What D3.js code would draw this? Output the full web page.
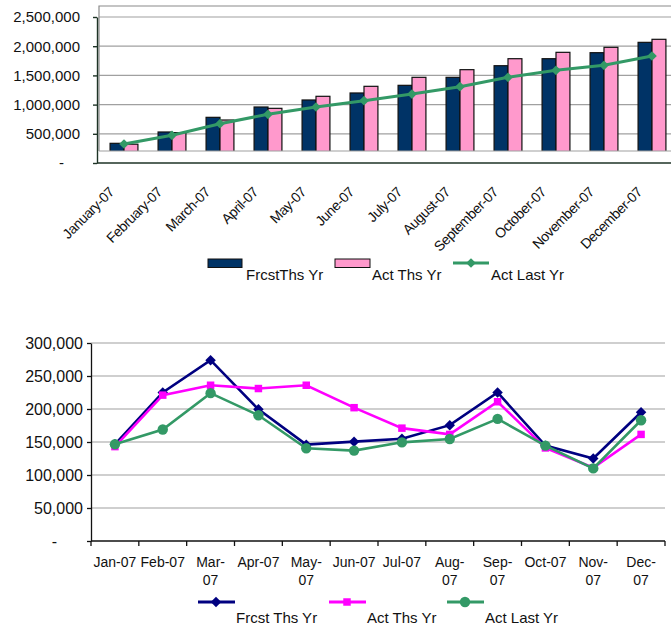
<!DOCTYPE html>
<html>
<head>
<meta charset="utf-8">
<script src="https://cdn.jsdelivr.net/npm/d3@7/dist/d3.min.js"></script>
<style>
  body { margin: 0; background: #fff; }
  svg { display: block; font-family: "Liberation Sans", Arial, sans-serif; }
</style>
</head>
<body>
<svg id="chart" width="671" height="626"></svg>
<script>
// cumulative chart (top)
var monthsLong = ["January-07", "February-07", "March-07", "April-07", "May-07", "June-07",
    "July-07", "August-07", "September-07", "October-07", "November-07", "December-07"];
var cumFrcst = [337000, 531000, 782000, 959000, 1079000, 1199000, 1330000, 1467000, 1666000, 1786000, 1889000, 2066000];
var cumAct = [322000, 520000, 736000, 936000, 1142000, 1313000, 1467000, 1598000, 1786000, 1895000, 1981000, 2118000];
var cumLast = [325000, 474000, 673000, 834000, 959000, 1067000, 1181000, 1307000, 1467000, 1587000, 1673000, 1832000];
var topTicks = [0, 500000, 1000000, 1500000, 2000000, 2500000];
var topSeries = ["FrcstThs Yr", "Act Ths Yr", "Act Last Yr"];

// monthly chart (bottom)
var monthsShort = ["Jan-07", "Feb-07", "Mar-|07", "Apr-07", "May-|07", "Jun-07",
    "Jul-07", "Aug-|07", "Sep-|07", "Oct-07", "Nov-|07", "Dec-|07"];
var monFrcst = [146500, 225000, 274000, 199500, 146000, 150500, 155000, 175500, 225000, 144500, 125000, 195000];
var monAct = [143000, 221000, 236000, 231000, 236000, 202000, 171000, 161500, 211000, 141000, 111000, 161500];
var monLast = [146500, 169000, 224000, 190500, 140500, 137000, 149500, 154500, 185000, 144500, 110000, 183000];
var bottomTicks = [0, 50000, 100000, 150000, 200000, 250000, 300000];
var bottomSeries = ["Frcst Ths Yr", "Act Ths Yr", "Act Last Yr"];

var svg = d3.select("#chart");
var fmt = d3.format(",");

// ---------- top chart ----------
var x = d3.scaleBand().domain(monthsLong).range([100, 676]).paddingInner(0.42).paddingOuter(0.21);
var x1 = d3.scaleBand().domain(["f", "a"]).range([0, x.bandwidth()]);
var y = d3.scaleLinear().domain([0, 2500000]).range([163, 17]);
var floorY = 151;

var topG = svg.append("g");

topG.append("g").selectAll("line").data(topTicks.slice(1))
    .join("line")
    .attr("x1", 99).attr("x2", 671)
    .attr("y1", d => y(d)).attr("y2", d => y(d))
    .attr("stroke", "#a0a0a0").attr("stroke-width", 1.2);

// plot frame
topG.append("path")
    .attr("d", "M99," + floorY + "V6H671")
    .attr("fill", "none").attr("stroke", "#8a8a8a").attr("stroke-width", 1.2);

topG.append("clipPath").attr("id", "floorClip")
    .append("rect").attr("x", 0).attr("y", 0).attr("width", 671).attr("height", floorY);

var bars = topG.append("g").attr("clip-path", "url(#floorClip)");
var groups = bars.selectAll("g").data(monthsLong).join("g")
    .attr("transform", d => "translate(" + x(d) + ",0)");
groups.append("rect")
    .attr("x", x1("f")).attr("width", x1.bandwidth())
    .attr("y", (d, i) => y(cumFrcst[i])).attr("height", (d, i) => y(0) - y(cumFrcst[i]))
    .attr("fill", "#003366").attr("stroke", "#111").attr("stroke-width", 1.2);
groups.append("rect")
    .attr("x", x1("a")).attr("width", x1.bandwidth())
    .attr("y", (d, i) => y(cumAct[i])).attr("height", (d, i) => y(0) - y(cumAct[i]))
    .attr("fill", "#ff99cc").attr("stroke", "#111").attr("stroke-width", 1.2);

topG.append("line")
    .attr("x1", 99).attr("x2", 671).attr("y1", floorY).attr("y2", floorY)
    .attr("stroke", "#a0a0a0").attr("stroke-width", 1.2);

var cx = d => x(d) + x.bandwidth() / 2;
topG.append("path")
    .datum(cumLast)
    .attr("d", d3.line().x((d, i) => cx(monthsLong[i])).y(d => y(d)))
    .attr("fill", "none").attr("stroke", "#339966").attr("stroke-width", 3);
var diamond = d3.symbol().type(d3.symbolDiamond2).size(60);
topG.append("g").selectAll("path").data(cumLast).join("path")
    .attr("d", diamond)
    .attr("transform", (d, i) => "translate(" + cx(monthsLong[i]) + "," + y(d) + ")")
    .attr("fill", "#339966");

var yAxisTop = topG.append("g")
    .attr("transform", "translate(97,0)")
    .call(d3.axisLeft(y).tickValues(topTicks).tickSize(4).tickSizeOuter(0).tickPadding(13)
        .tickFormat(d => d === 0 ? "-" : fmt(d)));
yAxisTop.selectAll("path,line").attr("stroke", "#1e3326").attr("stroke-width", 1.4);
yAxisTop.selectAll("text").attr("font-size", 15).attr("fill", "#111")
    .attr("font-family", "Liberation Sans, Arial, sans-serif");
yAxisTop.selectAll("text").filter(d => d === 0).attr("dx", -16);

topG.append("line")
    .attr("x1", 97).attr("x2", 671).attr("y1", y(0)).attr("y2", y(0))
    .attr("stroke", "#1e3326").attr("stroke-width", 1.4);

topG.append("g").selectAll("text").data(monthsLong).join("text")
    .attr("transform", d => "translate(" + (cx(d) - 9) + ",193) rotate(-45)")
    .attr("text-anchor", "end")
    .attr("font-size", 14)
    .attr("letter-spacing", -0.4)
    .attr("fill", "#111")
    .text(d => d);

// legend top
var legTop = topG.append("g").attr("font-size", 15).attr("fill", "#111");
var legTopX = [208, 335, 453];
legTop.append("rect").attr("x", legTopX[0]).attr("y", 259).attr("width", 34).attr("height", 8.5)
    .attr("fill", "#003366").attr("stroke", "#111");
legTop.append("rect").attr("x", legTopX[1]).attr("y", 259).attr("width", 35).attr("height", 8.5)
    .attr("fill", "#ff99cc").attr("stroke", "#111");
legTop.append("line").attr("x1", legTopX[2]).attr("x2", legTopX[2] + 36).attr("y1", 263).attr("y2", 263)
    .attr("stroke", "#339966").attr("stroke-width", 3);
legTop.append("path").attr("d", diamond).attr("transform", "translate(" + (legTopX[2] + 18) + ",263)")
    .attr("fill", "#339966");
legTop.selectAll("text").data(topSeries).join("text")
    .attr("x", (d, i) => legTopX[i] + [38, 37, 38][i])
    .attr("y", 280)
    .text(d => d);

// ---------- bottom chart ----------
var xb = d3.scaleBand().domain(monthsShort).range([91, 665]);
var yb = d3.scaleLinear().domain([0, 300000]).range([541, 343]);
var bot = svg.append("g");
var bcx = d => xb(d) + xb.bandwidth() / 2;

bot.append("g").selectAll("line").data(bottomTicks.slice(1))
    .join("line")
    .attr("x1", 91).attr("x2", 665)
    .attr("y1", d => yb(d)).attr("y2", d => yb(d))
    .attr("stroke", "#a0a0a0").attr("stroke-width", 1.2);

var yAxisBot = bot.append("g")
    .attr("transform", "translate(91,0)")
    .call(d3.axisLeft(yb).tickValues(bottomTicks).tickSize(4).tickSizeOuter(0).tickPadding(4)
        .tickFormat(d => d === 0 ? "-" : fmt(d)));
yAxisBot.selectAll("path,line").attr("stroke", "#111").attr("stroke-width", 1.3);
yAxisBot.selectAll("text").attr("font-size", 16).attr("fill", "#111")
    .attr("font-family", "Liberation Sans, Arial, sans-serif");
yAxisBot.selectAll("text").filter(d => d === 0).attr("dx", -26);

bot.append("line").attr("x1", 91).attr("x2", 665).attr("y1", yb(0)).attr("y2", yb(0))
    .attr("stroke", "#111").attr("stroke-width", 1.3);
bot.append("g").selectAll("line").data(monthsShort.concat([null])).join("line")
    .attr("x1", d => d === null ? 665 : xb(d)).attr("x2", d => d === null ? 665 : xb(d))
    .attr("y1", yb(0)).attr("y2", yb(0) + 5)
    .attr("stroke", "#111").attr("stroke-width", 1.3);

var xl = bot.append("g").selectAll("text").data(monthsShort).join("text")
    .attr("text-anchor", "middle").attr("font-size", 14).attr("fill", "#111");
xl.each(function (d) {
    var parts = d.split("|");
    var t = d3.select(this);
    parts.forEach(function (p, k) {
        t.append("tspan").attr("x", bcx(d)).attr("y", 567 + k * 17.5).text(p);
    });
});

var lineSeries = [
    { name: bottomSeries[0], values: monFrcst, color: "#000080", sym: d3.symbol().type(d3.symbolDiamond2).size(70) },
    { name: bottomSeries[1], values: monAct, color: "#ff00ff", sym: d3.symbol().type(d3.symbolSquare).size(56) },
    { name: bottomSeries[2], values: monLast, color: "#339966", sym: d3.symbol().type(d3.symbolCircle).size(85) }
];
var lineGen = d3.line().x((d, i) => bcx(monthsShort[i])).y(d => yb(d));
lineSeries.forEach(function (s) {
    bot.append("path").datum(s.values).attr("d", lineGen)
        .attr("fill", "none").attr("stroke", s.color).attr("stroke-width", 2.6);
    bot.append("g").selectAll("path").data(s.values).join("path")
        .attr("d", s.sym)
        .attr("transform", (d, i) => "translate(" + bcx(monthsShort[i]) + "," + yb(d) + ")")
        .attr("fill", s.color);
});

// legend bottom
var legBotX = [198, 329, 447];
var legBot = bot.append("g").attr("font-size", 15).attr("fill", "#111");
lineSeries.forEach(function (s, i) {
    legBot.append("line").attr("x1", legBotX[i]).attr("x2", legBotX[i] + 37)
        .attr("y1", 602).attr("y2", 602).attr("stroke", s.color).attr("stroke-width", 3);
    legBot.append("path").attr("d", s.sym)
        .attr("transform", "translate(" + (legBotX[i] + 18) + ",602)").attr("fill", s.color);
    legBot.append("text").attr("x", legBotX[i] + 38).attr("y", 623).text(s.name);
});
</script>
</body>
</html>
